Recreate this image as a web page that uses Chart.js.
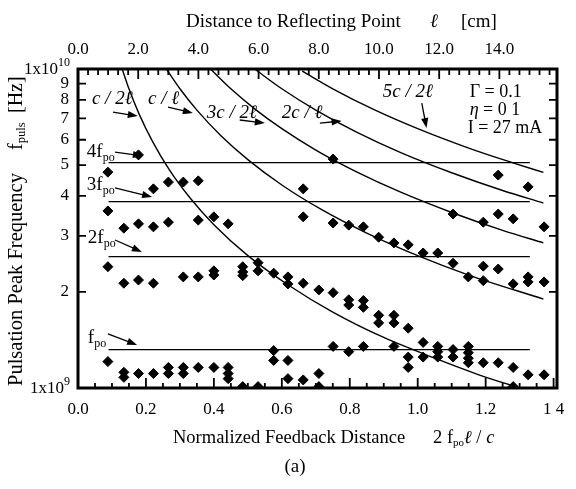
<!DOCTYPE html>
<html>
<head>
<meta charset="utf-8">
<script src="https://cdn.jsdelivr.net/npm/chart.js@4.4.0/dist/chart.umd.min.js"></script>
<style>
  html, body { margin: 0; padding: 0; background: #fff; }
</style>
</head>
<body>
<canvas id="chart" width="576" height="489"></canvas>
<script>
// bottom axis: normalized feedback distance 2 f_po l / c
const xTicks = [0, 0.2, 0.4, 0.6, 0.8, 1.0, 1.2, 1.4];
const xTickLabels = ['0.0', '0.2', '0.4', '0.6', '0.8', '1.0', '1.2', '1 4'];
// top axis: distance to reflecting point l [cm]
const topTicks = [0, 2, 4, 6, 8, 10, 12, 14];
const topTickLabels = ['0.0', '2.0', '4.0', '6.0', '8.0', '10.0', '12.0', '14.0'];
const unitsPerCm = 0.0886;
// left axis: frequency in GHz (log)
const yTicks = [1, 2, 3, 4, 5, 6, 7, 8, 9, 10];
const yTickLabels = ['1x10^9', '2', '3', '4', '5', '6', '7', '8', '9', '1x10^10'];

// measured pulsation peaks, one column per reflector position
const scanX = [0.088, 0.135, 0.178, 0.222, 0.266, 0.310, 0.354, 0.400, 0.442, 0.485,
               0.530, 0.576, 0.618, 0.663, 0.709, 0.751, 0.797, 0.840, 0.885, 0.930,
               0.972, 1.016, 1.059, 1.104, 1.149, 1.193, 1.237, 1.281, 1.325, 1.372];
const scanPeaks = [
  [4.75, 3.59, 2.40, 1.21],
  [3.17, 2.13, 1.12, 1.08],
  [5.38, 3.27, 2.18, 1.11],
  [4.21, 3.20, 2.13, 1.11],
  [4.42, 3.31, 1.16, 1.11],
  [4.42, 2.23, 1.16, 1.11],
  [4.46, 3.36, 2.23, 1.16],
  [3.44, 2.33, 2.26, 1.16],
  [3.27, 1.16, 1.11, 1.07],
  [2.40, 2.31, 2.25, 1.01],
  [2.47, 2.33, 1.01],
  [2.29, 1.31, 1.22],
  [2.23, 2.12, 1.22, 1.07],
  [4.21, 3.44, 2.13, 1.06],
  [2.03, 1.11, 1.01],
  [5.22, 3.29, 1.99, 1.35],
  [3.24, 1.89, 1.82, 1.30],
  [3.20, 1.88, 1.79, 1.35],
  [2.97, 1.69, 1.60],
  [2.85, 1.69, 1.60, 1.35],
  [2.81, 1.54, 1.25, 1.16],
  [2.65, 1.39, 1.25],
  [2.65, 1.35, 1.30, 1.25],
  [3.51, 2.46, 1.32, 1.25],
  [2.23, 1.35, 1.29, 1.24, 1.20],
  [3.31, 2.41, 2.17, 1.20],
  [4.65, 3.51, 2.36, 1.20],
  [3.39, 2.12, 1.16, 1.01],
  [4.27, 2.23, 2.15, 1.10],
  [3.20, 2.15, 1.10]
];

// round-trip resonance curves (c/2l, c/l, 3c/2l, 2c/l, 5c/2l)
const curveC2lX = [0.13, 0.15, 0.18, 0.22, 0.27, 0.33, 0.40, 0.50, 0.62, 0.75, 0.90, 1.05, 1.18, 1.30];
const curveC2lY = [10.0, 8.67, 7.22, 5.91, 4.81, 3.94, 3.25, 2.60, 2.10, 1.73, 1.44, 1.24, 1.10, 1.00];
const curveClX = [0.26, 0.30, 0.35, 0.42, 0.50, 0.60, 0.72, 0.85, 1.00, 1.15, 1.37];
const curveClY = [10.0, 8.67, 7.43, 6.19, 5.20, 4.33, 3.61, 3.06, 2.60, 2.26, 1.90];
const curve3c2lX = [0.39, 0.45, 0.52, 0.60, 0.70, 0.82, 0.95, 1.10, 1.25, 1.37];
const curve3c2lY = [10.0, 8.67, 7.50, 6.50, 5.57, 4.76, 4.11, 3.55, 3.12, 2.85];
const curve2clX = [0.52, 0.60, 0.70, 0.82, 0.95, 1.10, 1.25, 1.37];
const curve2clY = [10.0, 8.67, 7.43, 6.34, 5.47, 4.73, 4.16, 3.80];
const curve5c2lX = [0.66, 0.75, 0.87, 1.00, 1.15, 1.28, 1.37];
const curve5c2lY = [9.85, 8.67, 7.47, 6.50, 5.65, 5.08, 4.74];

// harmonics of the solitary pulsation frequency f_po
const harmonicLevels = [1.32, 2.58, 3.84, 5.09];
const harmonicFrom = 0.09;
const harmonicTo = 1.33;

// annotations (data coordinates)
const curveLabels = ['c / 2ℓ', 'c / ℓ', '3c / 2ℓ', '2c / ℓ', '5c / 2ℓ'];
const curveLabelAt = [[0.041, 8.05], [0.206, 8.05], [0.379, 7.28], [0.60, 7.28], [0.897, 8.47]];
const curveArrowFrom = [[0.103, 7.33], [0.265, 7.60], [0.476, 6.92], [0.712, 6.77], [1.012, 7.82]];
const curveArrowTo = [[0.176, 7.12], [0.338, 7.28], [0.55, 6.77], [0.776, 6.87], [1.026, 6.53]];
const harmonicLabels = ['4f', '3f', '2f', 'f'];
const harmonicLabelAt = [[0.026, 5.49], [0.026, 4.33], [0.029, 2.95], [0.029, 1.435]];
const harmonicArrowFrom = [[0.109, 5.49], [0.109, 4.24], [0.109, 2.91], [0.088, 1.477]];
const harmonicArrowTo = [[0.191, 5.34], [0.218, 3.97], [0.188, 2.67], [0.174, 1.364]];
const paramLines = ['Γ = 0.1', 'η = 0 1', 'I = 27 mA'];
const paramAt = [[1.153, 8.47], [1.153, 7.44], [1.147, 6.53]];

const SERIF = '"Liberation Serif", "DejaVu Serif", serif';
function font(size, italic) {
    return (italic ? 'italic ' : '') + size + 'px ' + SERIF;
}

// draw a run of text pieces (for subscripts / italics)
function drawParts(ctx, x, y, parts) {
    let cx = x;
    for (const p of parts) {
        ctx.font = font(p.size || 18, p.italic);
        ctx.fillText(p.t, cx, y + (p.dy || 0));
        cx += ctx.measureText(p.t).width;
    }
    return cx - x;
}

function arrow(ctx, x1, y1, x2, y2) {
    const a = Math.atan2(y2 - y1, x2 - x1);
    const hl = 10, hw = 3.6;
    ctx.beginPath();
    ctx.moveTo(x1, y1);
    ctx.lineTo(x2 - hl * 0.8 * Math.cos(a), y2 - hl * 0.8 * Math.sin(a));
    ctx.stroke();
    ctx.beginPath();
    ctx.moveTo(x2, y2);
    ctx.lineTo(x2 - hl * Math.cos(a) + hw * Math.sin(a), y2 - hl * Math.sin(a) - hw * Math.cos(a));
    ctx.lineTo(x2 - hl * Math.cos(a) - hw * Math.sin(a), y2 - hl * Math.sin(a) + hw * Math.cos(a));
    ctx.closePath();
    ctx.fill();
}

const toXY = (xs, ys) => xs.map((v, i) => ({ x: v, y: ys[i] }));

const points = scanX.flatMap((v, i) => scanPeaks[i].map(f => ({ x: v, y: f })));

const lineStyle = {
    showLine: true,
    borderColor: '#000',
    borderWidth: 1.4,
    pointRadius: 0,
    fill: false
};

const datasets = [
    {
        data: points,
        pointStyle: 'rectRot',
        pointRadius: 5,
        backgroundColor: '#000',
        borderColor: '#000',
        borderWidth: 1,
        showLine: false,
        clip: 0
    }
];
[[curveC2lX, curveC2lY], [curveClX, curveClY], [curve3c2lX, curve3c2lY],
 [curve2clX, curve2clY], [curve5c2lX, curve5c2lY]].forEach(([xs, ys]) => {
    datasets.push({ ...lineStyle, data: toXY(xs, ys), cubicInterpolationMode: 'monotone' });
});
harmonicLevels.forEach(f => {
    datasets.push({ ...lineStyle, borderWidth: 1.2, data: [{ x: harmonicFrom, y: f }, { x: harmonicTo, y: f }] });
});

// frame and inward tick marks
const framePlugin = {
    id: 'frame',
    afterDatasetsDraw(chart) {
        const { ctx, chartArea: a, scales } = chart;
        const x = scales.x, top = scales.xTop, y = scales.y;
        ctx.save();
        ctx.strokeStyle = '#000';
        ctx.lineWidth = 1.8;
        ctx.beginPath();
        for (let i = 1; i <= 28; i++) {
            const px = x.getPixelForValue(i * 0.05);
            const len = (i % 4 === 0) ? 10 : 5;
            ctx.moveTo(px, a.bottom);
            ctx.lineTo(px, a.bottom - len);
        }
        for (let i = 1; i / 3 < top.max; i++) {
            const px = top.getPixelForValue(i / 3);
            const len = (i % 6 === 0) ? 10 : 6;
            ctx.moveTo(px, a.top);
            ctx.lineTo(px, a.top + len);
        }
        for (let k = 2; k <= 9; k++) {
            const py = y.getPixelForValue(k);
            ctx.moveTo(a.left, py);
            ctx.lineTo(a.left + 8, py);
            ctx.moveTo(a.right, py);
            ctx.lineTo(a.right - 8, py);
        }
        ctx.stroke();
        ctx.lineWidth = 3;
        ctx.strokeRect(a.left, a.top, a.right - a.left, a.bottom - a.top);
        ctx.restore();
    }
};

// titles, labels, arrows
const notesPlugin = {
    id: 'notes',
    afterDraw(chart) {
        const { ctx, scales } = chart;
        const x = scales.x, y = scales.y;
        const P = ([v, f]) => [x.getPixelForValue(v), y.getPixelForValue(f)];
        ctx.save();
        ctx.fillStyle = '#000';
        ctx.strokeStyle = '#000';
        ctx.lineWidth = 1.3;
        ctx.textBaseline = 'middle';
        ctx.textAlign = 'left';

        // exponent tick labels
        yTickLabels.forEach((lab, i) => {
            if (lab.indexOf('^') < 0) return;
            const [base, exp] = lab.split('^');
            const py = y.getPixelForValue(yTicks[i]);
            ctx.font = font(17);
            const wb = ctx.measureText(base).width;
            ctx.font = font(12);
            const we = ctx.measureText(exp).width;
            const x0 = 70 - wb - we;
            drawParts(ctx, x0, py + 1, [{ t: base, size: 17 }, { t: exp, size: 12, dy: -7 }]);
        });

        // curve labels and arrows
        curveLabels.forEach((t, i) => {
            const [px, py] = P(curveLabelAt[i]);
            drawParts(ctx, px, py, [{ t: t, size: 19, italic: true }]);
            const [x1, y1] = P(curveArrowFrom[i]);
            const [x2, y2] = P(curveArrowTo[i]);
            arrow(ctx, x1, y1, x2, y2);
        });
        harmonicLabels.forEach((t, i) => {
            const [px, py] = P(harmonicLabelAt[i]);
            drawParts(ctx, px, py, [{ t: t, size: 19 }, { t: 'po', size: 12, dy: 6 }]);
            const [x1, y1] = P(harmonicArrowFrom[i]);
            const [x2, y2] = P(harmonicArrowTo[i]);
            arrow(ctx, x1, y1, x2, y2);
        });
        paramLines.forEach((t, i) => {
            const [px, py] = P(paramAt[i]);
            if (t.startsWith('η')) {
                drawParts(ctx, px, py, [{ t: 'η', size: 18, italic: true }, { t: t.slice(1), size: 18 }]);
            } else {
                drawParts(ctx, px, py, [{ t: t, size: 18 }]);
            }
        });

        // top title
        drawParts(ctx, 186, 22, [{ t: 'Distance to Reflecting Point', size: 19 }]);
        drawParts(ctx, 430, 22, [{ t: 'ℓ', size: 19, italic: true }]);
        drawParts(ctx, 461, 22, [{ t: '[cm]', size: 19 }]);

        // bottom title
        drawParts(ctx, 173, 438, [{ t: 'Normalized Feedback Distance', size: 18.5 }]);
        drawParts(ctx, 433, 438, [
            { t: '2 f', size: 18.5 }, { t: 'po', size: 11, dy: 5 },
            { t: 'ℓ', size: 18.5, italic: true }, { t: ' / ', size: 18.5 }, { t: 'c', size: 18.5, italic: true }
        ]);

        // left title (rotated)
        ctx.save();
        ctx.translate(17, 386);
        ctx.rotate(-Math.PI / 2);
        drawParts(ctx, 0, 0, [{ t: 'Pulsation Peak Frequency', size: 20.5 }]);
        drawParts(ctx, 236, 0, [{ t: 'f', size: 20 }, { t: 'puls', size: 12.5, dy: 5 }]);
        drawParts(ctx, 273, 0, [{ t: '[Hz]', size: 20 }]);
        ctx.restore();

        // panel tag
        ctx.textAlign = 'center';
        ctx.font = font(19);
        ctx.fillText('(a)', 295, 467);
        ctx.restore();
    }
};

const xMax = 1.41;

new Chart(document.getElementById('chart').getContext('2d'), {
    type: 'scatter',
    data: { datasets: datasets },
    options: {
        responsive: false,
        animation: false,
        layout: { padding: { left: 0, right: 19, top: 0, bottom: 0 } },
        plugins: {
            legend: { display: false },
            tooltip: { enabled: false }
        },
        scales: {
            x: {
                type: 'linear',
                position: 'bottom',
                min: 0,
                max: xMax,
                afterBuildTicks: s => { s.ticks = xTicks.map(v => ({ value: v })); },
                afterFit: s => { s.height = 101; },
                ticks: {
                    callback: (v, i) => xTickLabels[i],
                    font: { family: SERIF, size: 17 },
                    color: '#000',
                    padding: 11,
                    maxRotation: 0,
                    autoSkip: false
                },
                grid: { display: false, drawTicks: false },
                border: { display: false }
            },
            xTop: {
                type: 'linear',
                position: 'top',
                min: 0,
                max: xMax / unitsPerCm,
                afterBuildTicks: s => { s.ticks = topTicks.map(v => ({ value: v })); },
                afterFit: s => { s.height = 69; },
                ticks: {
                    callback: (v, i) => topTickLabels[i],
                    font: { family: SERIF, size: 17 },
                    color: '#000',
                    padding: 9,
                    maxRotation: 0,
                    autoSkip: false
                },
                grid: { display: false, drawTicks: false },
                border: { display: false }
            },
            y: {
                type: 'logarithmic',
                position: 'left',
                min: 1,
                max: 10,
                afterBuildTicks: s => { s.ticks = yTicks.map(v => ({ value: v })); },
                afterFit: s => { s.width = 78; },
                ticks: {
                    callback: (v, i) => (yTickLabels[i].indexOf('^') >= 0 ? '' : yTickLabels[i]),
                    font: { family: SERIF, size: 17 },
                    color: '#000',
                    padding: 9,
                    autoSkip: false
                },
                grid: { display: false, drawTicks: false },
                border: { display: false }
            }
        }
    },
    plugins: [framePlugin, notesPlugin]
});
</script>
</body>
</html>
